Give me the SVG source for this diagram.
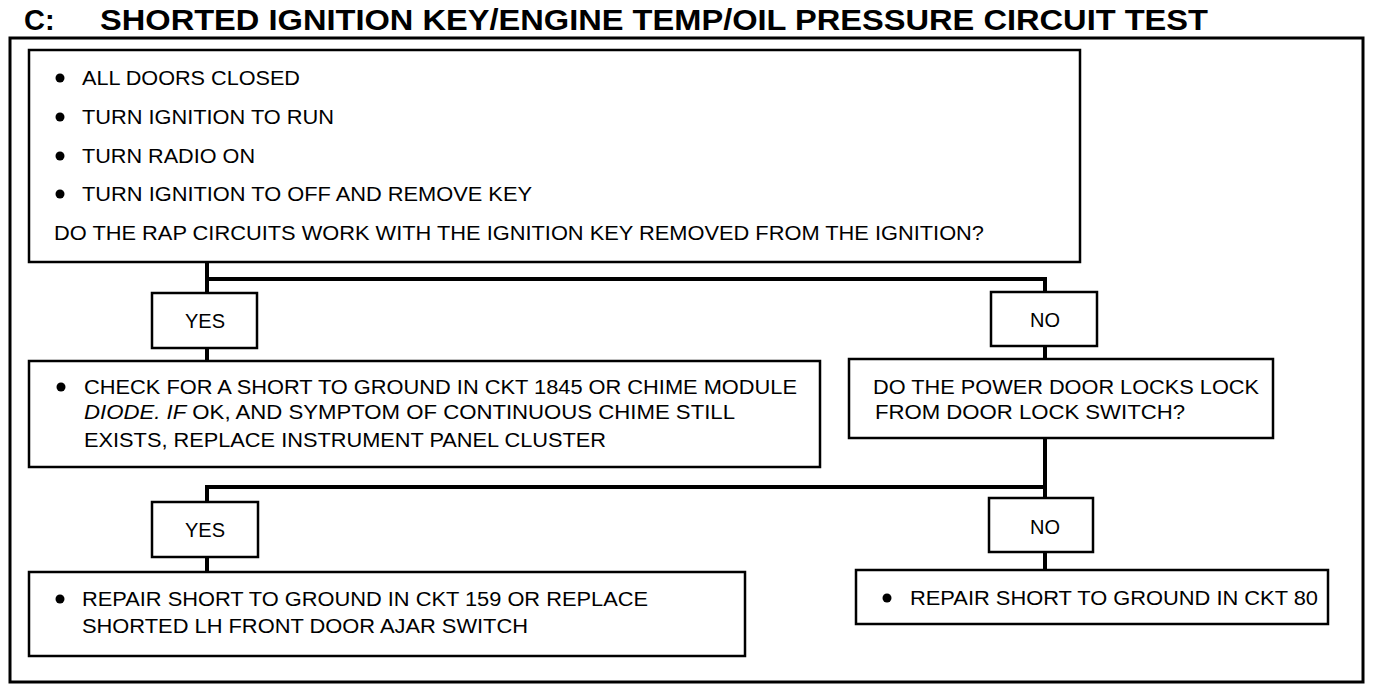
<svg xmlns="http://www.w3.org/2000/svg" width="1376" height="690" viewBox="0 0 1376 690">
<style>
.box{fill:#fff;stroke:#000;stroke-width:2.5}
.frame{fill:none;stroke:#000;stroke-width:3}
.t{font-family:"Liberation Sans",Arial,sans-serif;font-size:20px;fill:#000}
.title{font-family:"Liberation Sans",Arial,sans-serif;font-size:29px;font-weight:bold;fill:#000}
.c{text-anchor:middle}
.conn{fill:none;stroke:#000;stroke-width:4}
.dot{fill:#000}
</style>
<rect width="1376" height="690" fill="#fff"/>
<g id="title">
<text class="title" x="24" y="30">C:</text>
<text class="title" x="100" y="30" textLength="1108" lengthAdjust="spacingAndGlyphs">SHORTED IGNITION KEY/ENGINE TEMP/OIL PRESSURE CIRCUIT TEST</text>
</g>
<rect class="frame" x="10" y="38" width="1353" height="644"/>
<g id="connectors">
<path class="conn" d="M207 262 V293 M207 279 H1045 V292 M207 348 V361 M1045 346 V359"/>
<path class="conn" d="M1045 438 V498 M1045 487 H207 V502 M207 557 V572 M1045 552 V570"/>
</g>
<g id="start">
<rect class="box" x="29" y="50" width="1051" height="212"/>
<circle class="dot" cx="60" cy="78" r="4.5"/>
<text class="t" x="82" y="85" textLength="218" lengthAdjust="spacingAndGlyphs">ALL DOORS CLOSED</text>
<circle class="dot" cx="60" cy="117" r="4.5"/>
<text class="t" x="82" y="124" textLength="252" lengthAdjust="spacingAndGlyphs">TURN IGNITION TO RUN</text>
<circle class="dot" cx="60" cy="156" r="4.5"/>
<text class="t" x="82" y="163" textLength="173" lengthAdjust="spacingAndGlyphs">TURN RADIO ON</text>
<circle class="dot" cx="60" cy="194" r="4.5"/>
<text class="t" x="82" y="201" textLength="450" lengthAdjust="spacingAndGlyphs">TURN IGNITION TO OFF AND REMOVE KEY</text>
<text class="t" x="54" y="240" textLength="930" lengthAdjust="spacingAndGlyphs">DO THE RAP CIRCUITS WORK WITH THE IGNITION KEY REMOVED FROM THE IGNITION?</text>
</g>
<g id="yes1">
<rect class="box" x="152" y="293" width="105" height="55"/>
<text class="t c" x="205" y="328">YES</text>
</g>
<g id="no1">
<rect class="box" x="991" y="292" width="106" height="54"/>
<text class="t c" x="1045" y="327">NO</text>
</g>
<g id="check">
<rect class="box" x="29" y="361" width="791" height="106"/>
<circle class="dot" cx="61" cy="387" r="4.5"/>
<text class="t" x="84" y="394" textLength="713" lengthAdjust="spacingAndGlyphs">CHECK FOR A SHORT TO GROUND IN CKT 1845 OR CHIME MODULE</text>
<text class="t" x="84" y="419" textLength="651" lengthAdjust="spacingAndGlyphs"><tspan font-style="italic">DIODE.  IF</tspan> OK, AND SYMPTOM OF CONTINUOUS CHIME  STILL</text>
<text class="t" x="84" y="447" textLength="522" lengthAdjust="spacingAndGlyphs">EXISTS, REPLACE INSTRUMENT PANEL CLUSTER</text>
</g>
<g id="power">
<rect class="box" x="849" y="359" width="424" height="79"/>
<text class="t" x="873" y="394" textLength="386" lengthAdjust="spacingAndGlyphs">DO THE POWER DOOR LOCKS LOCK</text>
<text class="t" x="875" y="419" textLength="310" lengthAdjust="spacingAndGlyphs">FROM DOOR LOCK SWITCH?</text>
</g>
<g id="yes2">
<rect class="box" x="152" y="502" width="106" height="55"/>
<text class="t c" x="205" y="537">YES</text>
</g>
<g id="no2">
<rect class="box" x="989" y="498" width="104" height="54"/>
<text class="t c" x="1045" y="534">NO</text>
</g>
<g id="repair159">
<rect class="box" x="29" y="572" width="716" height="84"/>
<circle class="dot" cx="60" cy="599" r="4.5"/>
<text class="t" x="82" y="606" textLength="566" lengthAdjust="spacingAndGlyphs">REPAIR SHORT TO GROUND IN CKT 159 OR REPLACE</text>
<text class="t" x="82" y="633" textLength="446" lengthAdjust="spacingAndGlyphs">SHORTED LH FRONT DOOR AJAR SWITCH</text>
</g>
<g id="repair80">
<rect class="box" x="856" y="570" width="472" height="54"/>
<circle class="dot" cx="887" cy="598" r="4.5"/>
<text class="t" x="910" y="605" textLength="408" lengthAdjust="spacingAndGlyphs">REPAIR SHORT TO GROUND IN CKT 80</text>
</g>
</svg>
